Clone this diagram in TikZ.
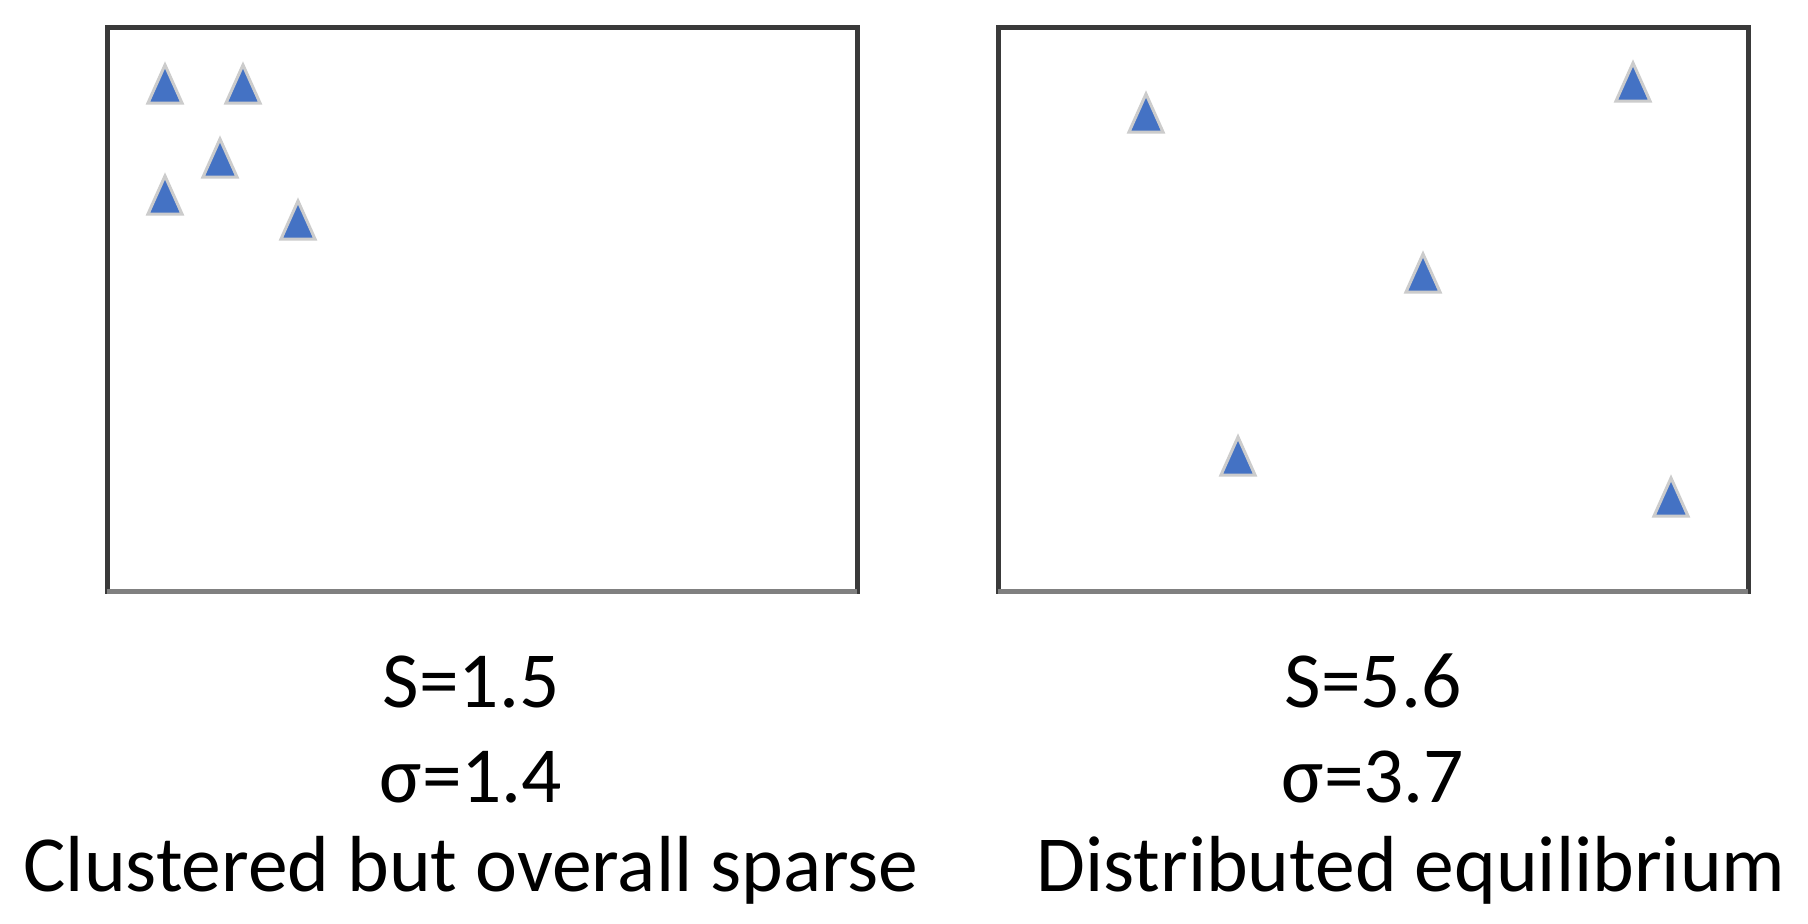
\documentclass[tikz,border=0pt]{standalone}
\usepackage{fontspec}
\setmainfont{Carlito}
\definecolor{triblue}{HTML}{4472C4}
\definecolor{frame}{HTML}{3A3A3A}
\definecolor{frameb}{HTML}{808080}
\begin{document}
\begin{tikzpicture}[x=1pt,y=-1pt,
  panel/.style={draw=frame,line width=5pt,minimum width=750pt,minimum height=564pt,inner sep=0pt,outer sep=0pt},
  lbl/.style={anchor=base,inner sep=0pt,font=\fontsize{79.5}{95}\selectfont},
  tri/.pic={\filldraw[fill=triblue,draw=gray!40,line width=3pt,line join=miter] (0,-19) -- (17,19) -- (-17,19) -- cycle;}]
\useasboundingbox (0,0) rectangle (1808,924);
\fill[white] (0,0) rectangle (1808,924);
% panels
\node[panel] (left) at (482,309) {};
\node[panel] (right) at (1373,309) {};
\draw[frameb,line width=5pt] (left.south west) -- (left.south east);
\draw[frameb,line width=5pt] (right.south west) -- (right.south east);
% left triangles
\pic at (165,84) {tri};
\pic at (243,84) {tri};
\pic at (220,158) {tri};
\pic at (165,195) {tri};
\pic at (298,220) {tri};
% right triangles
\pic at (1146,113) {tri};
\pic at (1633,82) {tri};
\pic at (1423,273) {tri};
\pic at (1238,456) {tri};
\pic at (1671,497) {tri};
% labels
\node[lbl] (s1) at (471,707) {S=1.5};
\node[lbl] (g1) at (471,802) {σ=1.4};
\node[lbl] (d1) at (471,891) {Clustered but overall sparse};
\node[lbl] (s2) at (1373,707) {S=5.6};
\node[lbl] (g2) at (1373,802) {σ=3.7};
\node[lbl] (d2) at (1411,891) {Distributed equilibrium};
\end{tikzpicture}
\end{document}
